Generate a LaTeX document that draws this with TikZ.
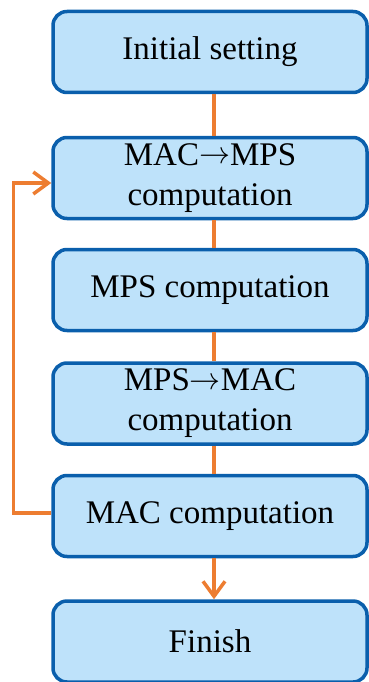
\documentclass[tikz,border=0pt]{standalone}
\usepackage{fontspec}
\setmainfont{Liberation Serif}
\usetikzlibrary{arrows.meta,calc}
\definecolor{boxfill}{RGB}{190,226,250}
\definecolor{boxline}{RGB}{10,95,172}
\definecolor{conncol}{RGB}{237,125,49}
\newcommand{\rarr}{\raisebox{1.5pt}{\resizebox{31pt}{!}{\normalsize$\rightarrow$}}}
\tikzset{
  stepbox/.style={draw=boxline, fill=boxfill, line width=3.5pt, rounded corners=14pt,
    minimum width=314pt, minimum height=81pt, inner sep=0pt, align=center,
    font=\fontsize{33pt}{40pt}\selectfont},
  conn/.style={draw=conncol, line width=3.5pt},
  tipp/.style={-{Straight Barb[length=15pt,width=22pt]}}
}
\begin{document}
\begin{tikzpicture}[x=1pt,y=-1pt]
\useasboundingbox (0,0) rectangle (368,682);
\node[stepbox] (b1) at (210,52) {Initial setting};
\node[stepbox] (b2) at (210,178) {MAC\rarr MPS\\computation};
\node[stepbox] (b3) at (210,290) {MPS computation};
\node[stepbox] (b4) at (210,403.5) {MPS\rarr MAC\\computation};
\node[stepbox] (b5) at (210,516) {MAC computation};
\node[stepbox] (b6) at (210,641.5) {Finish};
\draw[conn] ([xshift=4pt]b1.south) -- ([xshift=4pt]b2.north);
\draw[conn] ([xshift=4pt]b2.south) -- ([xshift=4pt]b3.north);
\draw[conn] ([xshift=4pt]b3.south) -- ([xshift=4pt]b4.north);
\draw[conn] ([xshift=4pt]b4.south) -- ([xshift=4pt]b5.north);
\draw[conn,tipp] ([xshift=4pt]b5.south) -- ([xshift=4pt]b6.north);
\draw[conn,tipp] ([yshift=3pt]b5.west) -- ++(-38,0) |- ([yshift=-5pt]b2.west);
\end{tikzpicture}
\end{document}
